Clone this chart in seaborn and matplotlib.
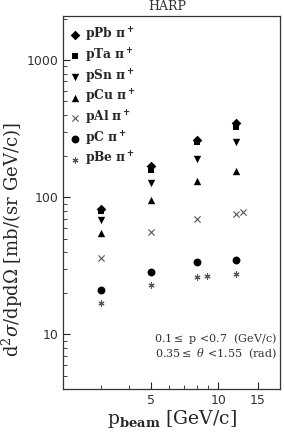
import numpy as np
import pandas as pd
import matplotlib
matplotlib.use("Agg")
import matplotlib.pyplot as plt
import seaborn as sns

# beam momenta (GeV/c) and cross sections
targets = ["pPb", "pTa", "pSn", "pCu", "pAl", "pC", "pBe"]
p_pb = [3, 5, 8, 12]
xs_pb = [82, 170, 262, 347]
p_ta = [3, 5, 8, 12]
xs_ta = [79, 158, 251, 324]
p_sn = [3, 5, 8, 12]
xs_sn = [68, 127, 190, 252]
p_cu = [3, 5, 8, 12]
xs_cu = [55, 96, 132, 155]
p_al = [3, 5, 8, 12, 12.9]
xs_al = [36, 55.5, 69.5, 75.5, 78.5]
p_c = [3, 5, 8, 12]
xs_c = [21.2, 28.4, 33.6, 34.9]
p_be = [3, 5, 8, 8.9, 12]
xs_be = [16.9, 23.0, 26.4, 26.7, 27.6]

all_p = [p_pb, p_ta, p_sn, p_cu, p_al, p_c, p_be]
all_xs = [xs_pb, xs_ta, xs_sn, xs_cu, xs_al, xs_c, xs_be]
df = pd.concat([pd.DataFrame({"p": p, "xs": v, "target": t})
                for t, p, v in zip(targets, all_p, all_xs)], ignore_index=True)

markers = {"pPb": "D", "pTa": "s", "pSn": "v", "pCu": "^",
           "pAl": "x", "pC": "o", "pBe": (6, 2, 0)}
colors = {"pPb": "black", "pTa": "black", "pSn": "black", "pCu": "black",
          "pAl": "#555555", "pC": "black", "pBe": "#555555"}
sizes = {"pPb": 24, "pTa": 24, "pSn": 28, "pCu": 28, "pAl": 20, "pC": 32, "pBe": 14}

sns.set_style("ticks")
plt.rcParams["font.family"] = ["DejaVu Serif", "DejaVu Sans"]
plt.rcParams["mathtext.fontset"] = "dejavuserif"

fig = plt.figure(figsize=(2.84, 4.34), dpi=100)
ax = fig.add_axes([0.222, 0.104, 0.764, 0.859])

# draw in reverse so pPb sits on top
for t in targets[::-1]:
    sub = df[df["target"] == t]
    sns.scatterplot(data=sub, x="p", y="xs", ax=ax, marker=markers[t],
                    color=colors[t], s=sizes[t], linewidth=0.8 if t in ("pAl", "pBe") else 0,
                    edgecolor=colors[t], legend=False)

ax.set_xscale("log")
ax.set_yscale("log")
ax.set_xlim(2.02, 18.9)
ax.set_ylim(4.0, 2100)
ax.set_xticks([5, 10, 15])
ax.set_xticklabels(["5", "10", "15"])
ax.set_yticks([10, 100, 1000])
ax.set_yticklabels(["10", "100", "1000"])
ax.xaxis.set_minor_formatter(matplotlib.ticker.NullFormatter())
ax.yaxis.set_minor_formatter(matplotlib.ticker.NullFormatter())
ax.tick_params(which="both", direction="in", top=False, right=False,
               labelsize=9, colors="#222222")
ax.tick_params(which="major", length=5, width=0.8)
ax.tick_params(which="minor", length=3, width=0.6)
for lab in ax.get_xticklabels() + ax.get_yticklabels():
    lab.set_family("DejaVu Sans")
    lab.set_color("#333333")
for s in ax.spines.values():
    s.set_linewidth(0.9)
    s.set_color("#333333")

ax.set_xlabel(r"p$_{\mathbf{beam}}$ [GeV/c]", fontsize=13.5)
ax.xaxis.set_label_coords(0.5, -0.05)
ax.set_ylabel(r"d$^2\sigma$/dpd$\Omega$ [mb/(sr GeV/c)]", fontsize=13)
ax.yaxis.set_label_coords(-0.175, 0.4)
fig.text(0.59, 0.984, "HARP", ha="center", va="center", fontsize=9, color="#333333")

# legend
handles = []
for t in targets:
    h = ax.scatter([], [], marker=markers[t], color=colors[t], s=sizes[t],
                   linewidths=0.8 if t in ("pAl", "pBe") else 0)
    handles.append(h)
ax.legend(handles, [t + r" $\mathbf{\pi^+}$" for t in targets], loc="upper left",
          frameon=False, prop={"weight": "bold", "size": 8.8}, handletextpad=0.25,
          labelspacing=0.2, borderaxespad=0.3, handlelength=1.2,
          bbox_to_anchor=(-0.02, 0.997))

ax.text(0.985, 0.135, r"0.1$\leq$ p <0.7  (GeV/c)", transform=ax.transAxes,
        ha="right", va="center", fontsize=8, color="#333333")
ax.text(0.985, 0.094, r"0.35$\leq$ $\theta$ <1.55  (rad)", transform=ax.transAxes,
        ha="right", va="center", fontsize=8, color="#333333")

fig.savefig("out.png", dpi=100)
